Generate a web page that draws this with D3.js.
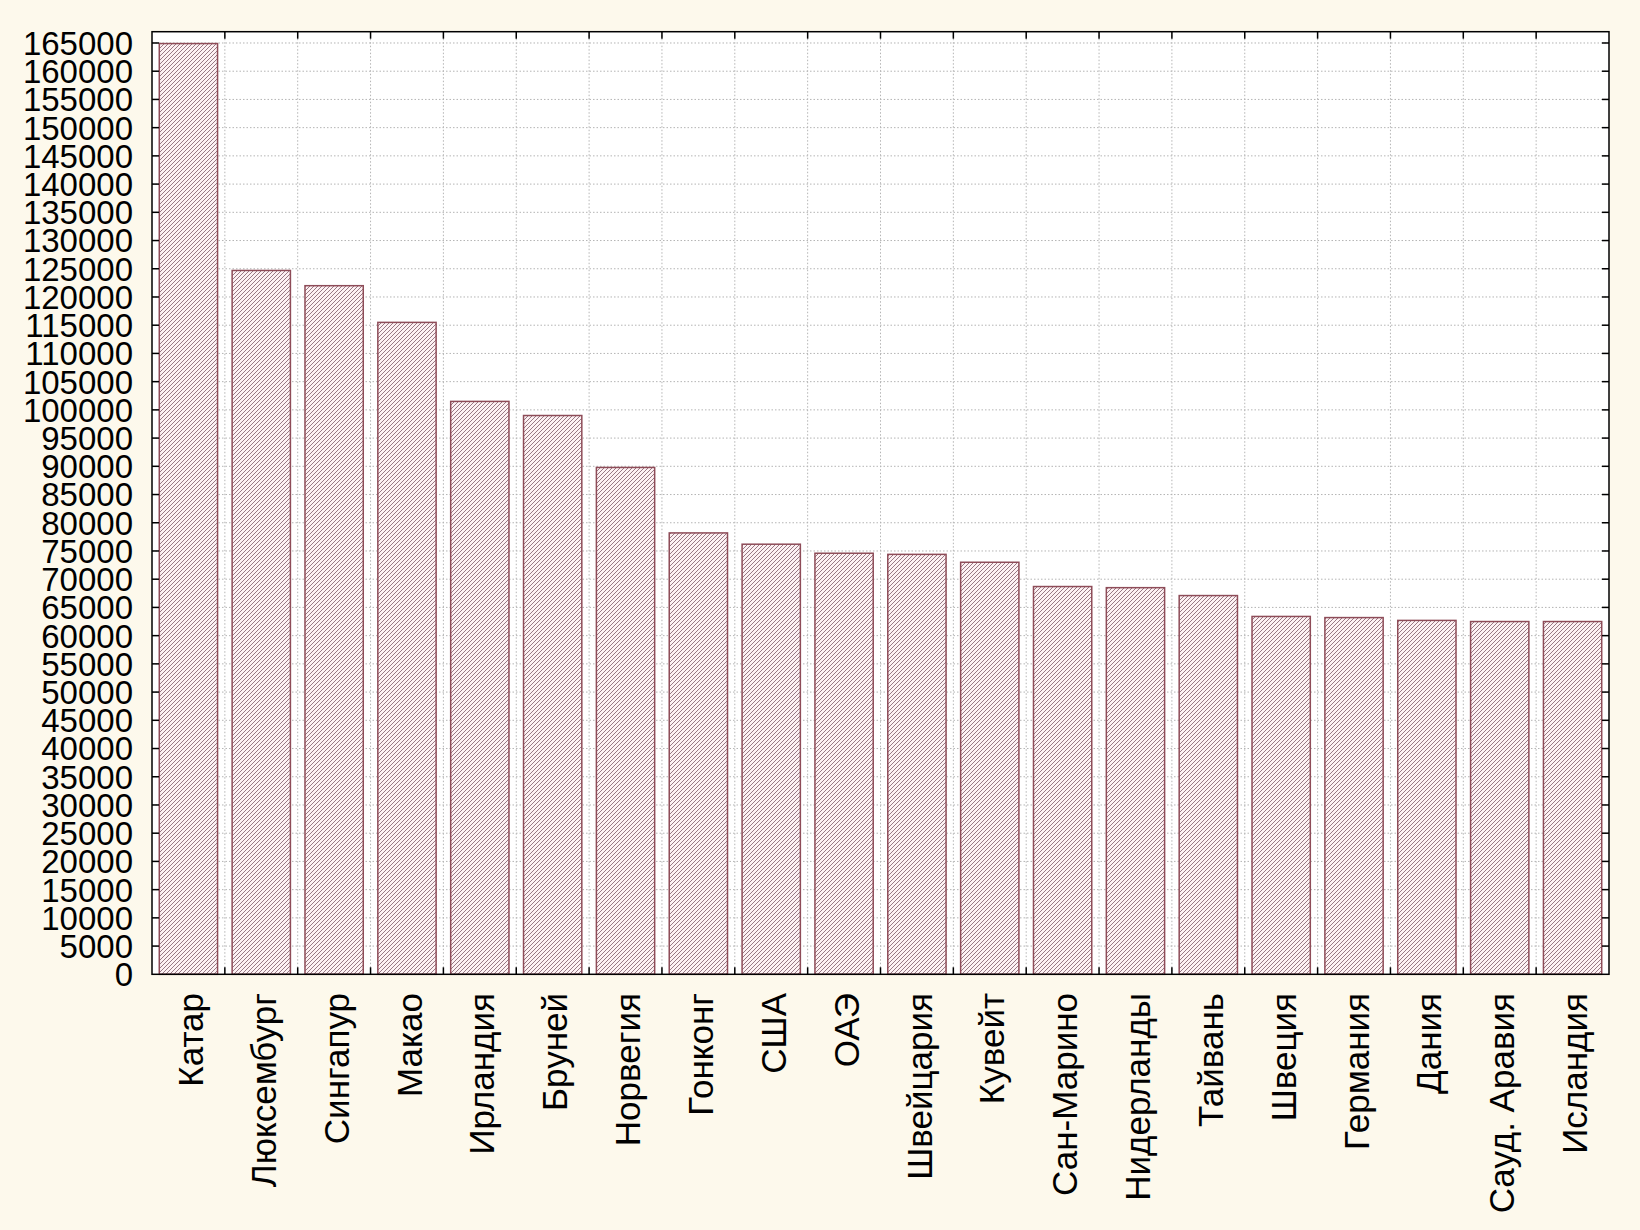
<!DOCTYPE html>
<html>
<head>
<meta charset="utf-8">
<script src="https://cdn.jsdelivr.net/npm/d3@7"></script>
<style>
  html, body { margin: 0; padding: 0; background: #fdf9ec; }
  svg { display: block; }
</style>
</head>
<body>
<svg id="chart" width="1640" height="1230"></svg>
<script>
const countries = ['Катар', 'Люксембург', 'Сингапур', 'Макао', 'Ирландия', 'Бруней', 'Норвегия',
  'Гонконг', 'США', 'ОАЭ', 'Швейцария', 'Кувейт', 'Сан-Марино', 'Нидерланды', 'Тайвань',
  'Швеция', 'Германия', 'Дания', 'Сауд. Аравия', 'Исландия'];
const gdp = [164900, 124700, 122000, 115500, 101500, 99000, 89800,
  78200, 76200, 74600, 74400, 73000, 68700, 68500, 67100,
  63400, 63200, 62700, 62500, 62500];
const yTicks = d3.range(0, 165001, 5000);

(function(){
  const svg = d3.select('#chart');
  const m = { left: 152, right: 1609, top: 31.7, bottom: 974.3 };
  const font = '"Liberation Sans", Arial, sans-serif';

  const x = d3.scaleBand().domain(countries).range([m.left, m.right]).paddingInner(0.2).paddingOuter(0.1);
  const y = d3.scaleLinear().domain([0, 167000]).range([m.bottom, m.top]);
  const step = x.step();
  const bounds = d3.range(1, countries.length).map(i => m.left + i * step);

  // hatch pattern
  const pat = svg.append('defs').append('pattern')
    .attr('id', 'hatch').attr('patternUnits', 'userSpaceOnUse')
    .attr('width', 4).attr('height', 4);
  pat.append('rect').attr('width', 4).attr('height', 4).attr('fill', '#fdf1f3');
  pat.append('path').attr('d', 'M-1,1 l2,-2 M0,4 l4,-4 M3,5 l2,-2')
    .attr('stroke', '#76525f').attr('stroke-width', 0.75);

  // plot background
  svg.append('rect').attr('x', m.left).attr('y', m.top)
    .attr('width', m.right - m.left).attr('height', m.bottom - m.top).attr('fill', '#fff');

  // grid
  const grid = svg.append('g').attr('stroke', '#b4b4b4').attr('stroke-dasharray', '1.5,2').attr('stroke-width', 1);
  grid.selectAll('.h').data(yTicks.slice(1)).join('line')
    .attr('x1', m.left).attr('x2', m.right).attr('y1', d => y(d)).attr('y2', d => y(d));
  grid.selectAll('.v').data(bounds).join('line')
    .attr('x1', d => d).attr('x2', d => d).attr('y1', m.top).attr('y2', m.bottom);

  // bars
  svg.append('g').selectAll('rect').data(countries).join('rect')
    .attr('x', d => x(d)).attr('width', x.bandwidth())
    .attr('y', (d, i) => y(gdp[i])).attr('height', (d, i) => y(0) - y(gdp[i]))
    .attr('fill', 'url(#hatch)').attr('stroke', '#8e4c58').attr('stroke-width', 1.5);

  // frame
  svg.append('rect').attr('x', m.left).attr('y', m.top)
    .attr('width', m.right - m.left).attr('height', m.bottom - m.top)
    .attr('fill', 'none').attr('stroke', '#000').attr('stroke-width', 1.5);

  // inner ticks
  const tk = svg.append('g').attr('stroke', '#000').attr('stroke-width', 1.5);
  tk.selectAll('.l').data(yTicks.slice(1)).join('line')
    .attr('x1', m.left).attr('x2', m.left + 7).attr('y1', d => y(d)).attr('y2', d => y(d));
  tk.selectAll('.r').data(yTicks.slice(1)).join('line')
    .attr('x1', m.right - 7).attr('x2', m.right).attr('y1', d => y(d)).attr('y2', d => y(d));
  tk.selectAll('.t').data(bounds).join('line')
    .attr('x1', d => d).attr('x2', d => d).attr('y1', m.top).attr('y2', m.top + 7);
  tk.selectAll('.b').data(bounds).join('line')
    .attr('x1', d => d).attr('x2', d => d).attr('y1', m.bottom - 7).attr('y2', m.bottom);

  // y labels
  svg.append('g').selectAll('text').data(yTicks).join('text')
    .attr('x', 133).attr('y', d => y(d)).attr('dy', '0.36em')
    .attr('text-anchor', 'end').attr('font-family', font).attr('font-size', 33)
    .attr('fill', '#000').text(d => d);

  // x labels
  svg.append('g').selectAll('text').data(countries).join('text')
    .attr('transform', d => `translate(${x(d) + x.bandwidth() / 2 + 2},993) rotate(-90)`)
    .attr('dy', '0.36em').attr('text-anchor', 'end')
    .attr('font-family', font).attr('font-size', 35).attr('fill', '#000').text(d => d);
})();
</script>
</body>
</html>
